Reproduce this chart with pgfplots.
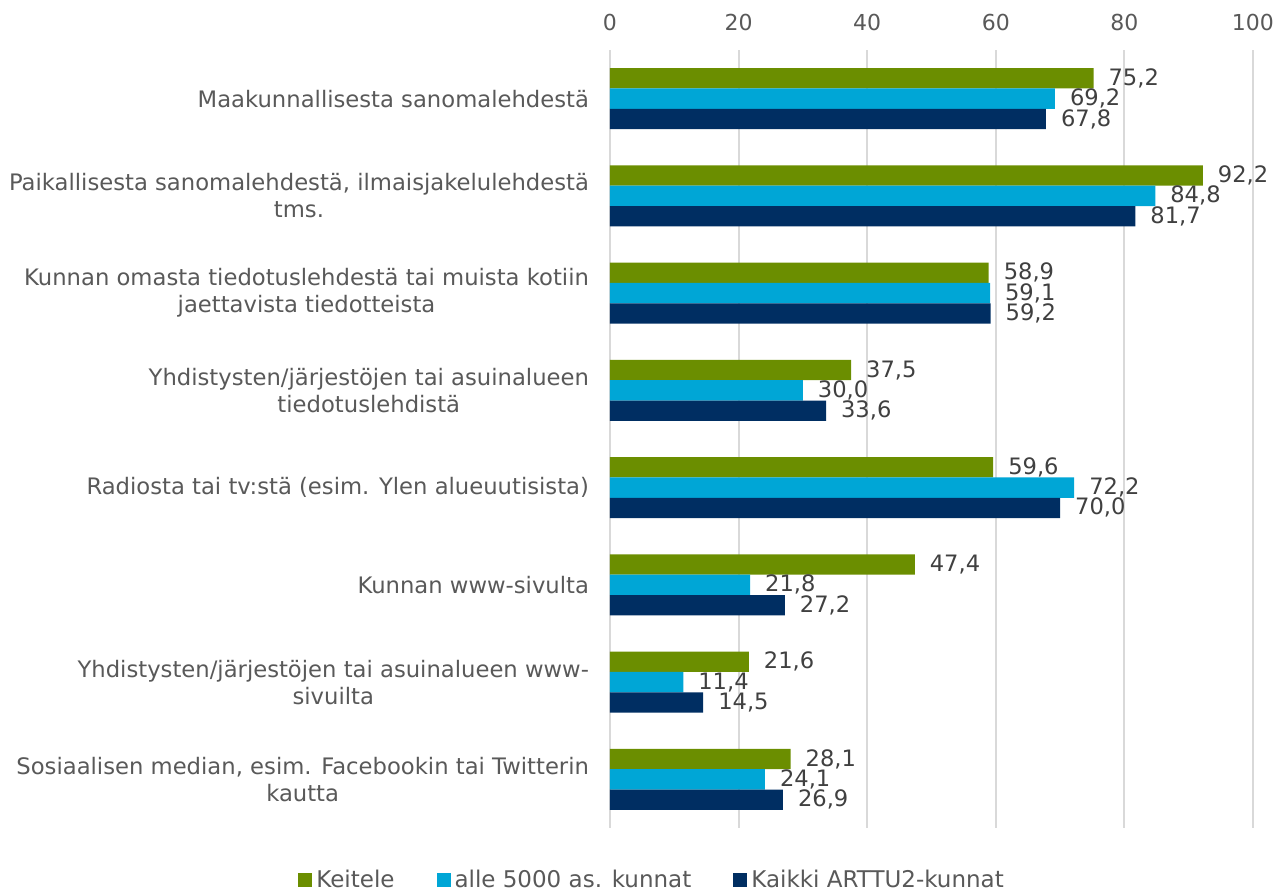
\documentclass[border=0pt]{standalone}
\usepackage{fontspec}
\setmainfont{DejaVu Sans}
\usepackage{pgfplots}
\pgfplotsset{compat=1.18}
\definecolor{cKeitele}{HTML}{6B8E00}
\definecolor{cAlle}{HTML}{00A6D6}
\definecolor{cKaikki}{HTML}{002E62}
\definecolor{gridgray}{HTML}{D9D9D9}
\definecolor{labgray}{HTML}{595959}
\definecolor{valgray}{HTML}{404040}

\begin{document}
\begin{tikzpicture}
\begin{axis}[
  xbar=0pt,
  bar width=10.15pt,
  scale only axis,
  width=321.5pt, height=389pt,
  xmin=0, xmax=100,
  ymin=-0.5, ymax=7.5,
  y dir=reverse,
  xtick={0,20,...,100},
  xticklabel pos=top,
  ytick={0,...,7},
  yticklabels={
    {Maakunnallisesta sanomalehdestä},
    {Paikallisesta sanomalehdestä, ilmaisjakelulehdestä\\tms.},
    {Kunnan omasta tiedotuslehdestä tai muista kotiin\\jaettavista tiedotteista},
    {Yhdistysten/järjestöjen tai asuinalueen\\tiedotuslehdistä},
    {Radiosta tai tv:stä (esim. Ylen alueuutisista)},
    {Kunnan www-sivulta},
    {Yhdistysten/järjestöjen tai asuinalueen www-\\sivuilta},
    {Sosiaalisen median, esim. Facebookin tai Twitterin\\kautta}},
  axis line style={draw=none},
  major tick length=0pt,
  xmajorgrids,
  grid style={color=gridgray, line width=1pt},
  /pgf/number format/assume math mode=true,
  every tick label/.append style={text=labgray},
  xticklabel style={font=\fontsize{11}{13.5}\selectfont, yshift=6pt},
  yticklabel style={font=\fontsize{11.35}{13.5}\selectfont, align=center, xshift=-7pt},
  nodes near coords={\pgfmathprintnumber[use comma,fixed,fixed zerofill,precision=1]{\pgfplotspointmeta}},
  every node near coord/.append style={font=\fontsize{11.3}{13}\selectfont, text=valgray, xshift=4pt},
  legend columns=3,
  legend style={at={(0.067,-0.067)}, anchor=center, draw=none,
    font=\fontsize{11.5}{13}\selectfont, text=labgray,
    /tikz/every even column/.append style={column sep=19pt},
    inner sep=0pt},
  legend image code/.code={\fill[#1] (0pt,-3.5pt) rectangle (7pt,3.5pt);},
]
\addplot[fill=cKeitele, draw=none, bar shift=10.15pt] coordinates {
  (75.2,0) (92.2,1) (58.9,2) (37.5,3) (59.6,4) (47.4,5) (21.6,6) (28.1,7)};
\addplot[fill=cAlle, draw=none, bar shift=0pt] coordinates {
  (69.2,0) (84.8,1) (59.1,2) (30.0,3) (72.2,4) (21.8,5) (11.4,6) (24.1,7)};
\addplot[fill=cKaikki, draw=none, bar shift=-10.15pt] coordinates {
  (67.8,0) (81.7,1) (59.2,2) (33.6,3) (70.0,4) (27.2,5) (14.5,6) (26.9,7)};
\legend{Keitele, alle 5000 as. kunnat, Kaikki ARTTU2-kunnat}
\end{axis}
\pgfresetboundingbox
\path ([xshift=-305pt,yshift=-33pt]current axis.south west)
  rectangle ([xshift=14pt,yshift=25pt]current axis.north east);
\end{tikzpicture}
\end{document}
